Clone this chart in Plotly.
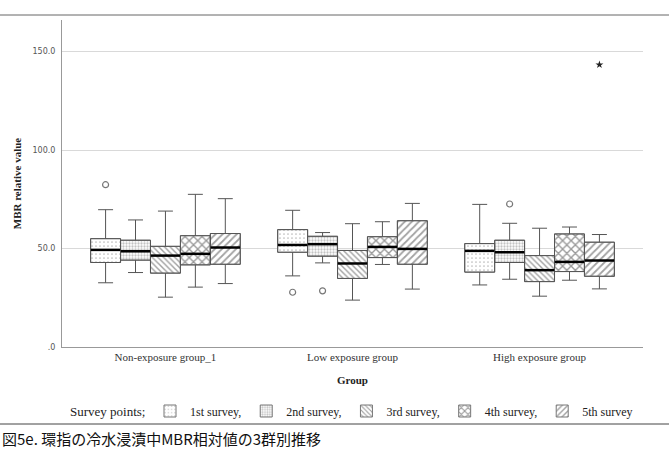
import plotly.graph_objects as go

groups = ["Non-exposure group_1", "Low exposure group", "High exposure group"]
surveys = ["1st survey,", "2nd survey,", "3rd survey,", "4th survey,", "5th survey"]
legend_title = "Survey points;"

q1 = [
    [42.9, 48.1, 38.0],
    [44.1, 46.1, 42.9],
    [37.5, 34.8, 33.2],
    [41.7, 45.4, 38.3],
    [42.0, 42.0, 35.9],
]
median = [
    [49.3, 51.8, 48.8],
    [48.6, 52.2, 48.1],
    [46.4, 42.4, 39.0],
    [47.3, 50.8, 43.2],
    [50.5, 49.8, 43.9],
]
q3 = [
    [55.0, 59.6, 52.5],
    [54.2, 56.2, 54.2],
    [51.1, 49.0, 46.4],
    [56.5, 56.0, 57.4],
    [57.6, 64.1, 53.2],
]
lower = [
    [32.6, 36.1, 31.5],
    [37.8, 42.7, 34.4],
    [25.3, 23.8, 25.8],
    [30.4, 41.9, 33.9],
    [32.2, 29.4, 29.5],
]
upper = [
    [69.7, 69.4, 72.4],
    [64.5, 58.1, 62.8],
    [69.0, 62.6, 60.3],
    [77.5, 63.6, 60.9],
    [75.3, 72.9, 57.1],
]
# outliers: (survey index, group, value)
outliers = [(0, groups[0], 82.4), (0, groups[1], 27.8), (1, groups[1], 28.5), (1, groups[2], 72.6)]
extremes = [(4, groups[2], 143.3)]

y_tickvals = [0, 50, 100, 150]
y_ticktext = [".0", "50.0", "100.0", "150.0"]

patterns = [
    dict(shape=".", size=4, solidity=0.15, fgcolor="#777"),
    dict(shape=".", size=3, solidity=0.45, fgcolor="#888"),
    dict(shape="\\", size=4, solidity=0.35, fgcolor="#444"),
    dict(shape="x", size=6, solidity=0.4, fgcolor="#333"),
    dict(shape="/", size=5, solidity=0.35, fgcolor="#444"),
]

fig = go.Figure()
serif = "Liberation Serif"

for i, name in enumerate(surveys):
    og = f"s{i}"
    fig.add_trace(go.Bar(
        x=groups, base=q1[i], y=[b - a for a, b in zip(q1[i], q3[i])],
        name=name, offsetgroup=og,
        marker=dict(color="white", pattern=dict(**patterns[i], bgcolor="white", fillmode="overlay"),
                    line=dict(color="#777", width=1)),
        hoverinfo="skip",
    ))
for i, name in enumerate(surveys):
    og = f"s{i}"
    fig.add_trace(go.Box(
        x=groups, q1=q1[i], median=median[i], q3=q3[i],
        lowerfence=lower[i], upperfence=upper[i],
        offsetgroup=og, name=name, showlegend=False,
        fillcolor="rgba(0,0,0,0)", line=dict(color="#555", width=1),
        whiskerwidth=0.5, boxpoints=False, hoverinfo="skip",
    ))
    fig.add_trace(go.Scatter(
        x=groups, y=median[i], mode="markers", offsetgroup=og, showlegend=False,
        marker=dict(symbol="line-ew", size=21, line=dict(color="black", width=2.5)),
        hoverinfo="skip",
    ))
    ox = [g for s, g, v in outliers if s == i]
    oy = [v for s, g, v in outliers if s == i]
    fig.add_trace(go.Scatter(
        x=ox if ox else [groups[0]], y=oy if oy else [None], mode="markers", offsetgroup=og, showlegend=False,
        marker=dict(symbol="circle-open", size=6, color="#777", line=dict(width=1.2)),
        hoverinfo="skip",
    ))
    ex = [g for s, g, v in extremes if s == i]
    ey = [v for s, g, v in extremes if s == i]
    fig.add_trace(go.Scatter(
        x=ex if ex else [groups[0]], y=ey if ey else [None], mode="markers", offsetgroup=og, showlegend=False,
        marker=dict(symbol="star", size=6, color="#222"),
        hoverinfo="skip",
    ))

W, H = 669, 451
L, R, T, B = 62, 26, 20, 104
pw, ph = W - L - R, H - T - B


def px_x(p):
    return (p - L) / pw


def px_y(p):
    return (H - B - p) / ph


fig.update_layout(
    width=W, height=H,
    margin=dict(l=L, r=R, t=T, b=B),
    paper_bgcolor="white", plot_bgcolor="white",
    barmode="group", bargap=0.2, bargroupgap=0,
    boxmode="group", boxgap=0.2, boxgroupgap=0,
    scattermode="group", scattergap=0.2,
    xaxis=dict(
        type="category", range=[-0.553, 2.553],
        showline=True, linecolor="#999", linewidth=1, showgrid=False, ticks="",
        tickfont=dict(family=serif, size=11, color="#333"),
        title=dict(text="<b>Group</b>", font=dict(family=serif, size=11, color="#222"), standoff=14),
    ),
    yaxis=dict(
        range=[0, 166], tickvals=y_tickvals, ticktext=y_ticktext,
        showline=True, linecolor="#999", linewidth=1,
        showgrid=True, gridcolor="#d9d9d9", gridwidth=1, zeroline=False,
        ticks="", ticklabelstandoff=4,
        tickfont=dict(family="DejaVu Sans", size=8, color="#555"),
        title=dict(text="<b>MBR relative value</b>", font=dict(family=serif, size=11, color="#222"), standoff=8),
    ),
    legend=dict(
        orientation="h", x=px_x(150), xanchor="left", y=px_y(411), yanchor="middle",
        bgcolor="rgba(0,0,0,0)",
        font=dict(family=serif, size=12, color="#222"),
        itemwidth=30, tracegroupgap=0,
    ),
    showlegend=True,
)

fig.add_annotation(
    text=legend_title,
    xref="paper", yref="paper", x=px_x(68), y=px_y(411), xanchor="left", yanchor="middle",
    showarrow=False, font=dict(family=serif, size=13, color="#222"),
)
fig.add_shape(type="line", xref="paper", yref="paper", x0=px_x(0), x1=px_x(W), y0=px_y(15), y1=px_y(15),
              line=dict(color="#666", width=1))
fig.add_shape(type="line", xref="paper", yref="paper", x0=px_x(0), x1=px_x(W), y0=px_y(424), y1=px_y(424),
              line=dict(color="#444", width=1))
fig.add_annotation(
    text="図5e. 環指の冷水浸漬中MBR相対値の3群別推移",
    xref="paper", yref="paper", x=px_x(0), y=px_y(438), xanchor="left", yanchor="middle",
    showarrow=False, font=dict(family="Noto Sans CJK JP", size=15, color="#111"),
)

fig.write_html("out.html")
